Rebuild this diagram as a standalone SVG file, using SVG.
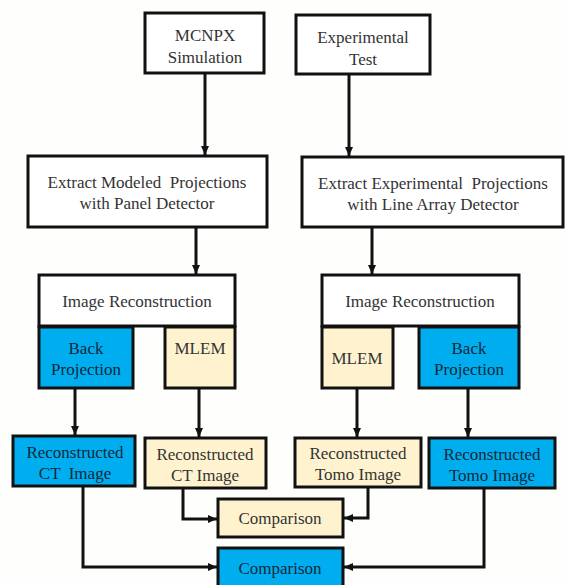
<svg xmlns="http://www.w3.org/2000/svg" width="566" height="585" viewBox="0 0 566 585">
<style>
.box{stroke:#111;stroke-width:3;}
.w{fill:#fff;}
.b{fill:#00aeef;}
.c{fill:#fff3cf;}
text{font-family:"Liberation Serif","Times New Roman",serif;font-size:17px;fill:#333;text-anchor:middle;}
.bt{fill:#13283a;}
.conn{fill:none;stroke:#111;stroke-width:3;}
</style>
<defs>
<marker id="ah" markerUnits="userSpaceOnUse" markerWidth="10" markerHeight="10" refX="9" refY="5" orient="auto">
<path d="M0,1 L9,5 L0,9 z" fill="#111"/>
</marker>
</defs>
<rect width="566" height="585" fill="#fefefd"/>
<g id="connectors">
<line class="conn" x1="205" y1="73" x2="205" y2="155" marker-end="url(#ah)"/>
<line class="conn" x1="349" y1="74" x2="349" y2="156" marker-end="url(#ah)"/>
<line class="conn" x1="196" y1="227" x2="196" y2="274" marker-end="url(#ah)"/>
<line class="conn" x1="372" y1="227" x2="372" y2="274" marker-end="url(#ah)"/>
<line class="conn" x1="75" y1="388" x2="75" y2="435" marker-end="url(#ah)"/>
<line class="conn" x1="199" y1="388" x2="199" y2="437" marker-end="url(#ah)"/>
<line class="conn" x1="357" y1="388" x2="357" y2="437" marker-end="url(#ah)"/>
<line class="conn" x1="468" y1="388" x2="468" y2="437" marker-end="url(#ah)"/>
<polyline class="conn" points="183,488 183,519 217,519" marker-end="url(#ah)"/>
<polyline class="conn" points="368,487 368,518 344,518" marker-end="url(#ah)"/>
<polyline class="conn" points="83,486 83,567 217,567" marker-end="url(#ah)"/>
<polyline class="conn" points="484,488 484,567 344,567" marker-end="url(#ah)"/>
</g>
<g id="mcnpx"><rect class="box w" x="145" y="13" width="119" height="60"/><text x="205" y="41">MCNPX</text><text x="205" y="63">Simulation</text></g>
<g id="exptest"><rect class="box w" x="296" y="15" width="134" height="59"/><text x="363" y="43">Experimental</text><text x="363" y="65">Test</text></g>
<g id="extract-modeled"><rect class="box w" x="28" y="156" width="239" height="71"/><text x="147" y="188" xml:space="preserve">Extract Modeled  Projections</text><text x="147" y="209">with Panel Detector</text></g>
<g id="extract-exp"><rect class="box w" x="302" y="157" width="261" height="70"/><text x="433" y="189" xml:space="preserve">Extract Experimental  Projections</text><text x="433" y="210">with Line Array Detector</text></g>
<g id="recon-left"><rect class="box w" x="39" y="275" width="196" height="51"/><text x="137" y="307">Image Reconstruction</text></g>
<g id="bp-left"><rect class="box b" x="39" y="327" width="94" height="61"/><text class="bt" x="86" y="354">Back</text><text class="bt" x="86" y="375">Projection</text></g>
<g id="mlem-left"><rect class="box c" x="165" y="327" width="70" height="61"/><text x="200" y="354">MLEM</text></g>
<g id="recon-right"><rect class="box w" x="322" y="275" width="197" height="51"/><text x="420" y="307">Image Reconstruction</text></g>
<g id="mlem-right"><rect class="box c" x="322" y="327" width="71" height="61"/><text x="357" y="364">MLEM</text></g>
<g id="bp-right"><rect class="box b" x="419" y="327" width="100" height="61"/><text class="bt" x="469" y="354">Back</text><text class="bt" x="469" y="375">Projection</text></g>
<g id="rct-blue"><rect class="box b" x="13" y="436" width="122" height="50"/><text class="bt" x="75" y="458">Reconstructed</text><text class="bt" x="75" y="479" xml:space="preserve">CT  Image</text></g>
<g id="rct-cream"><rect class="box c" x="145" y="438" width="121" height="50"/><text x="205" y="460">Reconstructed</text><text x="205" y="481">CT Image</text></g>
<g id="rtomo-cream"><rect class="box c" x="295" y="438" width="126" height="49"/><text x="358" y="459">Reconstructed</text><text x="358" y="480">Tomo Image</text></g>
<g id="rtomo-blue"><rect class="box b" x="429" y="438" width="126" height="50"/><text class="bt" x="492" y="460">Reconstructed</text><text class="bt" x="492" y="481">Tomo Image</text></g>
<g id="comp-cream"><rect class="box c" x="218" y="499" width="125" height="38"/><text x="280" y="524">Comparison</text></g>
<g id="comp-blue"><rect class="box b" x="218" y="548" width="125" height="40"/><text class="bt" x="280" y="574">Comparison</text></g>
</svg>
